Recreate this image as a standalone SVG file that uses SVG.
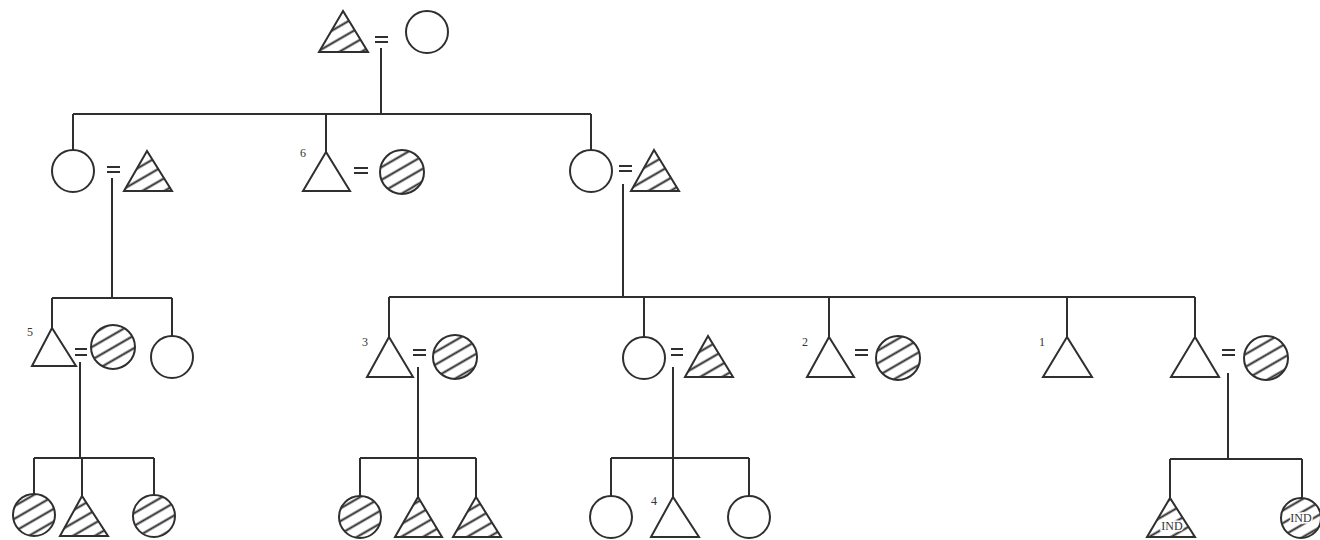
<svg xmlns="http://www.w3.org/2000/svg" width="1320" height="540" viewBox="0 0 1320 540">
<defs>
<pattern id="hatch" patternUnits="userSpaceOnUse" width="12" height="11" patternTransform="rotate(-30)">
<rect width="12" height="11" fill="#fff"/>
<line x1="0" y1="5.5" x2="12" y2="5.5" stroke="#2a2a2a" stroke-width="2"/>
</pattern>
<style>
.s{fill:#fff;stroke:#2f2f2f;stroke-width:2}
.h{fill:url(#hatch);stroke:#2f2f2f;stroke-width:2}
.c{fill:none;stroke:#2f2f2f;stroke-width:2}
.eq{stroke:#2f2f2f;stroke-width:2}
.n{font-family:"Liberation Serif",serif;font-size:12px;fill:#333}
.ind{font-family:"Liberation Serif",serif;font-size:12px;fill:#333;stroke:#fff;stroke-width:3;paint-order:stroke;text-anchor:middle}
</style>
</defs>
<rect width="1320" height="540" fill="#fff"/>
<g id="connectors" class="c">
<path d="M381 48V114M73 114H591M73 114V150M326 114V152M591 114V150"/>
<path d="M112 178V298M52 298H172M52 298V328M172 298V336"/>
<path d="M623 184V297M389 297H1195M389 297V337M644 297V337M829 297V337M1067 297V337M1195 297V337"/>
<path d="M80 362V458M34 458H154M34 458V494M82 458V496M154 458V495"/>
<path d="M418 367V458M360 458H476M360 458V496M418 458V497M476 458V497"/>
<path d="M673 367V458M611 458H749M611 458V496M673 458V497M749 458V496"/>
<path d="M1228 373V459M1170 459H1302M1170 459V498M1302 459V498"/>
</g>
<g id="marriages" class="eq">
<path d="M375 37H388M375 42H388"/>
<path d="M107 167H120M107 172H120"/>
<path d="M354 168H368M354 173H368"/>
<path d="M619 166H632M619 171H632"/>
<path d="M75 349H87M75 355H87"/>
<path d="M413 350H426M413 355H426"/>
<path d="M671 349H683M671 355H683"/>
<path d="M855 350H868M855 355H868"/>
<path d="M1222 350H1235M1222 355H1235"/>
</g>
<g id="gen1-father"><polygon class="h" points="343,11 319,52 368,52"/></g>
<g id="gen1-mother"><circle class="s" cx="427" cy="32" r="21"/></g>
<g id="gen2-daughter1"><circle class="s" cx="73" cy="171" r="21"/></g>
<g id="gen2-husband1"><polygon class="h" points="147,151 124,191 172,191"/></g>
<g id="gen2-son6"><text class="n" x="300" y="157">6</text><polygon class="s" points="326,152 303,191 350,191"/></g>
<g id="gen2-wife6"><circle class="h" cx="402" cy="172" r="22"/></g>
<g id="gen2-daughter2"><circle class="s" cx="591" cy="171" r="21"/></g>
<g id="gen2-husband2"><polygon class="h" points="654,150 631,191 679,191"/></g>
<g id="gen3-son5"><text class="n" x="27" y="336">5</text><polygon class="s" points="52,328 32,366 76,366"/></g>
<g id="gen3-wife5"><circle class="h" cx="113" cy="347" r="22"/></g>
<g id="gen3-daughter-a"><circle class="s" cx="172" cy="357" r="21"/></g>
<g id="gen3-son3"><text class="n" x="362" y="346">3</text><polygon class="s" points="389,337 367,377 413,377"/></g>
<g id="gen3-wife3"><circle class="h" cx="455" cy="357" r="22"/></g>
<g id="gen3-daughter-b"><circle class="s" cx="644" cy="358" r="21"/></g>
<g id="gen3-husband-b"><polygon class="h" points="708,336 685,377 733,377"/></g>
<g id="gen3-son2"><text class="n" x="802" y="346">2</text><polygon class="s" points="829,337 807,377 854,377"/></g>
<g id="gen3-wife2"><circle class="h" cx="898" cy="358" r="22"/></g>
<g id="gen3-son1"><text class="n" x="1039" y="346">1</text><polygon class="s" points="1067,337 1043,377 1092,377"/></g>
<g id="gen3-son-c"><polygon class="s" points="1195,337 1171,377 1219,377"/></g>
<g id="gen3-wife-c"><circle class="h" cx="1266" cy="358" r="22"/></g>
<g id="gen4-a1"><circle class="h" cx="34" cy="515" r="21"/></g>
<g id="gen4-a2"><polygon class="h" points="82,496 60,536 108,536"/></g>
<g id="gen4-a3"><circle class="h" cx="154" cy="516" r="21"/></g>
<g id="gen4-b1"><circle class="h" cx="360" cy="517" r="21"/></g>
<g id="gen4-b2"><polygon class="h" points="418,497 395,537 442,537"/></g>
<g id="gen4-b3"><polygon class="h" points="476,497 453,537 501,537"/></g>
<g id="gen4-c1"><circle class="s" cx="611" cy="517" r="21"/></g>
<g id="gen4-c2"><text class="n" x="651" y="505">4</text><polygon class="s" points="673,497 651,537 699,537"/></g>
<g id="gen4-c3"><circle class="s" cx="749" cy="517" r="21"/></g>
<g id="gen4-d1"><polygon class="h" points="1170,498 1147,537 1195,537"/><text class="ind" x="1172" y="530">IND</text></g>
<g id="gen4-d2"><circle class="h" cx="1301" cy="518" r="20"/><text class="ind" x="1301" y="522">IND</text></g>
</svg>
